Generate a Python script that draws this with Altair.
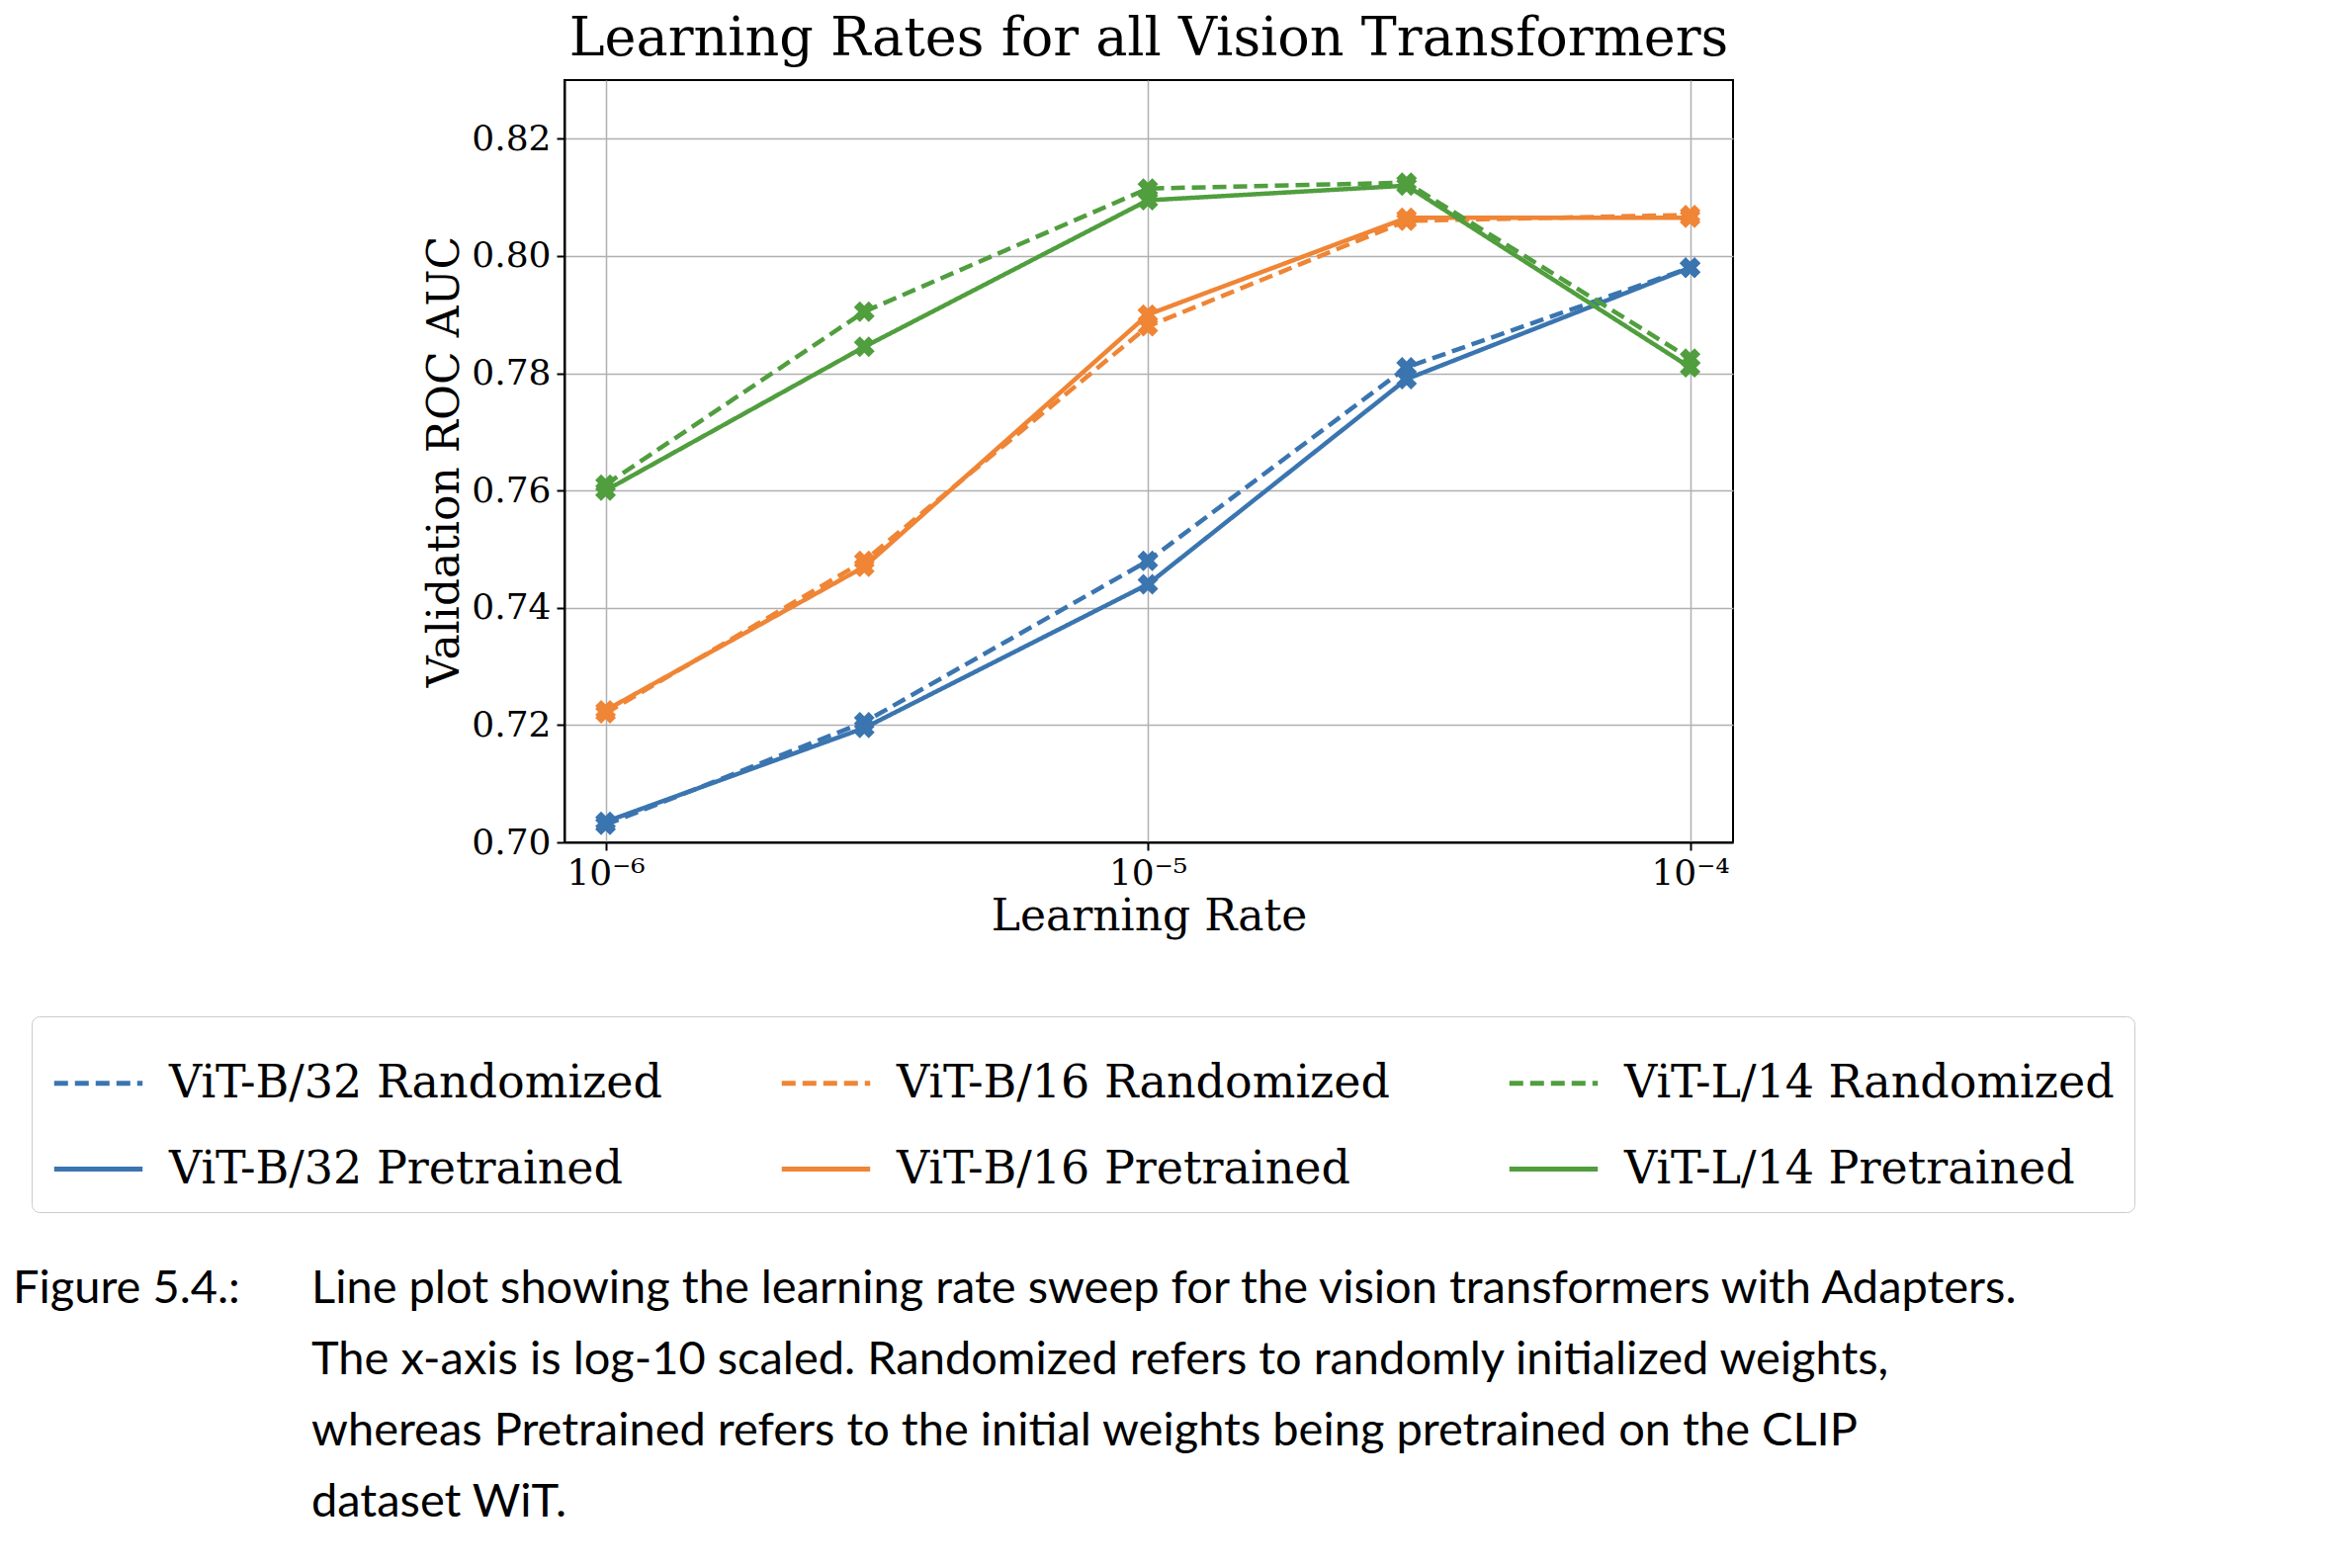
import altair as alt
import pandas as pd

lrs = [1e-6, 3e-6, 1e-5, 3e-5, 1e-4]
series = ["ViT-B/32 Randomized", "ViT-B/32 Pretrained", "ViT-B/16 Randomized",
          "ViT-B/16 Pretrained", "ViT-L/14 Randomized", "ViT-L/14 Pretrained"]
b32_rand = [0.703, 0.7205, 0.748, 0.781, 0.798]
b32_pre = [0.7035, 0.7195, 0.744, 0.779, 0.798]
b16_rand = [0.722, 0.748, 0.788, 0.806, 0.807]
b16_pre = [0.7225, 0.747, 0.790, 0.8065, 0.8065]
l14_rand = [0.761, 0.7905, 0.8115, 0.8125, 0.7825]
l14_pre = [0.760, 0.7845, 0.8095, 0.812, 0.781]
colors = ["#3a75b0", "#3a75b0", "#ef8535", "#ef8535", "#509e3e", "#509e3e"]
dashes = [[14, 7], [1, 0], [14, 7], [1, 0], [14, 7], [1, 0]]

caption_labels = ["Figure 5.4.:", "", "", ""]
caption_lines = [
    "Line plot showing the learning rate sweep for the vision transformers with Adapters.",
    "The x-axis is log-10 scaled.  Randomized refers to randomly initialized weights,",
    "whereas Pretrained refers to the initial weights being pretrained on the CLIP",
    "dataset WiT.",
]

vals = [b32_rand, b32_pre, b16_rand, b16_pre, l14_rand, l14_pre]
rows = [{"lr": lr, "auc": v, "series": s} for s, vv in zip(series, vals) for lr, v in zip(lrs, vv)]
df = pd.DataFrame(rows)

W, H = 1182, 771
color = alt.Color("series:N", sort=series, scale=alt.Scale(domain=series, range=colors),
                  legend=alt.Legend(title=None, orient="none", legendX=-539, legendY=947,
                                    columns=3, columnPadding=110, rowPadding=16,
                                    labelFontSize=46, labelFont="DejaVu Serif", labelOffset=24,
                                    symbolType="stroke", symbolSize=8000, symbolStrokeWidth=5,
                                    strokeColor="#cccccc", cornerRadius=8, padding=20,
                                    labelLimit=900))
dash = alt.StrokeDash("series:N", sort=series, scale=alt.Scale(domain=series, range=dashes), legend=None)
x = alt.X("lr:Q", title="Learning Rate",
          scale=alt.Scale(type="log", domain=[0.84e-6, 1.2e-4], nice=False),
          axis=alt.Axis(values=[1e-6, 1e-5, 1e-4],
                        labelExpr="datum.value < 5e-6 ? '10⁻⁶' : datum.value < 5e-5 ? '10⁻⁵' : '10⁻⁴'"))
y = alt.Y("auc:Q", title="Validation ROC AUC",
          scale=alt.Scale(domain=[0.70, 0.83], nice=False),
          axis=alt.Axis(values=[0.70, 0.72, 0.74, 0.76, 0.78, 0.80, 0.82], format=".2f"))

base = alt.Chart(df).encode(x=x, y=y, color=color, strokeDash=dash, detail="series:N")
lines = base.mark_line(strokeWidth=4.5)
pts = base.mark_point(shape="cross", angle=45, filled=True, size=450, opacity=1)

cdf = pd.DataFrame({"i": range(4), "lab": caption_labels, "body": caption_lines})
cy = alt.Y("i:Q", scale=alt.Scale(domain=[0, 3], range=[H + 1237, H + 1237 - 217 * 0 + 0]), axis=None)
# caption lines are 72px apart, below the legend
cdf["py"] = [H + 466 + 72 * i for i in range(4)]
cap_lab = alt.Chart(cdf).mark_text(align="left", baseline="alphabetic", fontSize=47, font="Lato").encode(
    x=alt.value(-558), y=alt.Y("py:Q", scale=None), text="lab:N")
cap_body = alt.Chart(cdf).mark_text(align="left", baseline="alphabetic", fontSize=47, font="Lato").encode(
    x=alt.value(-256), y=alt.Y("py:Q", scale=None), text="body:N")

chart = (lines + pts + cap_lab + cap_body).properties(
    width=W, height=H,
    title=alt.TitleParams("Learning Rates for all Vision Transformers", fontSize=54,
                          font="DejaVu Serif", fontWeight="normal", offset=14),
).configure_axis(
    labelFont="DejaVu Serif", titleFont="DejaVu Serif", labelFontSize=36, titleFontSize=44,
    titleFontWeight="normal", labelColor="black", titleColor="black", gridColor="#b0b0b0",
    gridWidth=1.5, domainColor="black", domainWidth=2, tickColor="black", tickSize=8, tickWidth=2,
    labelPadding=6,
).configure_view(stroke="black", strokeWidth=2)

chart.save("out.html", embed_options={"renderer": "svg", "actions": False})
